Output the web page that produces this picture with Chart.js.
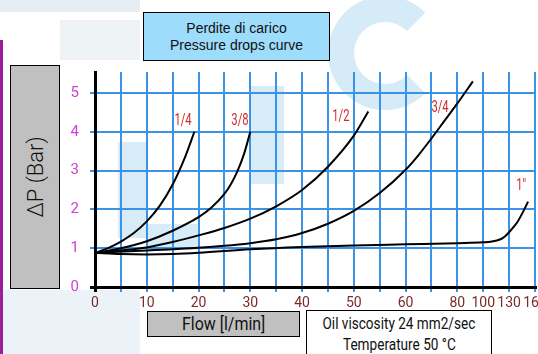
<!DOCTYPE html>
<html>
<head>
<meta charset="utf-8">
<script src="https://cdn.jsdelivr.net/npm/chart.js@4/dist/chart.umd.min.js"></script>
<style>
  body { margin: 0; background: #fff; }
  #wrap {
    position: relative; width: 538px; height: 354px; overflow: hidden; background: #fff;
    font-family: Roboto, sans-serif; font-weight: 400;
  }
  .wm { position: absolute; background: #d8ecf8; }
  .ring {
    position: absolute; left: 328px; top: -4px; width: 62px; height: 62px;
    border: 26px solid #d6ebf8; border-right-color: transparent; border-radius: 50%;
  }
  #edge { position: absolute; left: 0; top: 40px; width: 3px; height: 314px; background: #9a1d9a; }
  .box { position: absolute; border: 1px solid #000; box-sizing: border-box; text-align: center; color: #111; }
  .box span { display: inline-block; white-space: nowrap; }
  #title {
    left: 143px; top: 12px; width: 187px; height: 49px; background: #9ddcfb;
    font-family: "Liberation Sans", Arial, sans-serif; font-size: 14px; line-height: 17px; padding-top: 7px;
  }
  #ylab { left: 10px; top: 65px; width: 50px; height: 224px; background: #c0c0c0; }
  #ylab span {
    position: absolute; left: 50%; top: 50%; font-size: 22px; font-weight: 300;
    transform: translate(-50%, -50%) rotate(-90deg);
  }
  #xlab { left: 147px; top: 311px; width: 153px; height: 26px; background: #c0c0c0; font-size: 19px; line-height: 24px; }
  #xlab span { transform: scaleX(0.84); }
  #oil { left: 306px; top: 310px; width: 186px; height: 50px; background: #fff; font-size: 16px; line-height: 20.5px; padding-top: 3px; }
  #oil span { transform: scaleX(0.85); }
  canvas { position: absolute; left: 0; top: 0; }
</style>
</head>
<body>
<div id="wrap">
  <div class="wm" style="left:0;top:0;width:140px;height:12px;background:#e6eef3"></div>
  <div class="wm" style="left:60px;top:20px;width:80px;height:40px;background:#eef3f6"></div>
  <div class="ring"></div>
  <div class="wm" style="left:118px;top:142px;width:30px;height:96px"></div>
  <div class="wm" style="left:148px;top:224px;width:52px;height:26px"></div>
  <div class="wm" style="left:250px;top:86px;width:34px;height:98px"></div>
  <div class="wm" style="left:0;top:290px;width:140px;height:64px;background:#ebf3f8"></div>
  <div id="edge"></div>
  <canvas id="myChart" width="538" height="354"></canvas>
  <div class="box" id="title">Perdite di carico<br>Pressure drops curve</div>
  <div class="box" id="ylab"><span>ΔP (Bar)</span></div>
  <div class="box" id="xlab"><span>Flow [l/min]</span></div>
  <div class="box" id="oil"><span>Oil viscosity 24 mm2/sec</span><br><span>Temperature 50 °C</span></div>
</div>
<script>
// flow value sitting on each vertical grid line (the axis is not linear past 60)
var gridFlows = [0, 5, 10, 15, 20, 25, 30, 35, 40, 45, 50, 55, 60, 70, 80, 100, 130, 160];
var flowTicks = [0, 10, 20, 30, 40, 50, 60, 80, 100, 130, 160];
var barTicks = [0, 1, 2, 3, 4, 5];

var sizes = ['1/4', '3/8', '1/2', '3/4', '1"'];

var flow14 = [0, 2.5, 5, 7.5, 10, 12.5, 15, 17.5, 19.2];
var dp14   = [0.88, 1.0, 1.17, 1.39, 1.69, 2.09, 2.64, 3.38, 4.0];

var flow38 = [0, 5, 10, 15, 20, 22.5, 25, 26.25, 27.5, 28.75, 30];
var dp38   = [0.88, 1.0, 1.18, 1.45, 1.8, 2.05, 2.4, 2.65, 2.98, 3.41, 4.0];

var flow12 = [0, 5, 10, 15, 20, 25, 30, 35, 40, 45, 50, 52.8];
var dp12   = [0.88, 0.94, 1.02, 1.16, 1.33, 1.52, 1.76, 2.08, 2.5, 3.1, 3.9, 4.52];

var flow34 = [0, 10, 20, 25, 30, 35, 40, 45, 50, 55, 60, 65, 70, 75, 80, 92];
var dp34   = [0.88, 0.94, 1.01, 1.06, 1.13, 1.23, 1.39, 1.63, 1.96, 2.42, 3.02, 3.4, 3.83, 4.28, 4.73, 5.3];

var flow1 = [0, 5, 10, 15, 20, 30, 40, 50, 60, 80, 100, 110, 120, 125, 130, 135, 140, 146, 152];
var dp1   = [0.88, 0.85, 0.84, 0.85, 0.88, 0.97, 1.03, 1.07, 1.1, 1.13, 1.15, 1.17, 1.23, 1.3, 1.41, 1.54, 1.69, 1.93, 2.2];

// where each size name is written, in flow / bar
var sizeLabelFlow = [17, 28, 47.5, 73.3, 144];
var sizeLabelBar  = [4.28, 4.28, 4.38, 4.61, 2.6];

var BLUE = '#3a93e4';

// flow -> position along the grid (one unit per grid line)
function flowPos(f) {
  for (var i = 1; i < gridFlows.length; i++) {
    if (f <= gridFlows[i]) {
      return i - 1 + (f - gridFlows[i - 1]) / (gridFlows[i] - gridFlows[i - 1]);
    }
  }
  return gridFlows.length - 1;
}

function curve(flows, dps) {
  return flows.map(function (f, i) { return { x: flowPos(f), y: dps[i] }; });
}

var curves = [curve(flow14, dp14), curve(flow38, dp38), curve(flow12, dp12), curve(flow34, dp34), curve(flow1, dp1)];

// size names next to the curves, narrow red lettering
var sizeLabels = {
  id: 'sizeLabels',
  afterDatasetsDraw: function (chart) {
    var c = chart.ctx, xs = chart.scales.x, ys = chart.scales.y;
    c.save();
    c.fillStyle = '#d42a2a';
    c.font = '17px Roboto, sans-serif';
    c.textAlign = 'center';
    c.textBaseline = 'middle';
    sizes.forEach(function (s, i) {
      c.save();
      c.translate(xs.getPixelForValue(flowPos(sizeLabelFlow[i])), ys.getPixelForValue(sizeLabelBar[i]));
      c.scale(0.66, 1);
      c.fillText(s, 0, 0);
      c.restore();
    });
    c.restore();
  }
};

var ctx = document.getElementById('myChart').getContext('2d');
var chart = new Chart(ctx, {
  type: 'line',
  data: {
    datasets: curves.map(function (pts, i) {
      return {
        label: sizes[i],
        data: pts,
        borderColor: '#000',
        borderWidth: 2,
        pointRadius: 0,
        cubicInterpolationMode: 'monotone',
        fill: false
      };
    })
  },
  options: {
    responsive: false,
    animation: false,
    events: [],
    layout: { padding: { left: 60, top: 72, right: 3, bottom: 37 } },
    plugins: { legend: { display: false }, tooltip: { enabled: false } },
    scales: {
      x: {
        type: 'linear',
        min: 0,
        max: gridFlows.length - 1,
        afterBuildTicks: function (s) { s.ticks = gridFlows.map(function (f, i) { return { value: i }; }); },
        afterFit: function (s) { s.height = 30; s.paddingLeft = 0; s.paddingRight = 0; },
        ticks: {
          autoSkip: false,
          maxRotation: 0,
          padding: 3,
          color: '#7b2b2b',
          font: { family: 'Roboto', size: 14 },
          callback: function (v) {
            var f = gridFlows[v];
            return flowTicks.indexOf(f) >= 0 ? String(f) : '';
          }
        },
        grid: {
          color: function (c) { return c.tick && c.tick.value === 0 ? '#000' : BLUE; },
          lineWidth: function (c) { return c.tick && c.tick.value === 0 ? 3 : 2; },
          tickLength: 5
        },
        border: { display: true, color: '#000', width: 3 }
      },
      y: {
        min: 0,
        max: 5.54,
        afterBuildTicks: function (s) { s.ticks = barTicks.map(function (v) { return { value: v }; }); },
        afterFit: function (s) { s.width = 35; s.paddingTop = 0; s.paddingBottom = 0; },
        ticks: {
          padding: 11,
          color: '#d23ed2',
          font: { family: 'Roboto', size: 15 }
        },
        grid: {
          color: function (c) { return c.tick && c.tick.value === 0 ? '#000' : BLUE; },
          lineWidth: function (c) { return c.tick && c.tick.value === 0 ? 3 : 2; },
          tickLength: 5
        },
        border: { display: true, color: '#000', width: 3 }
      }
    }
  },
  plugins: [sizeLabels]
});
</script>
</body>
</html>
